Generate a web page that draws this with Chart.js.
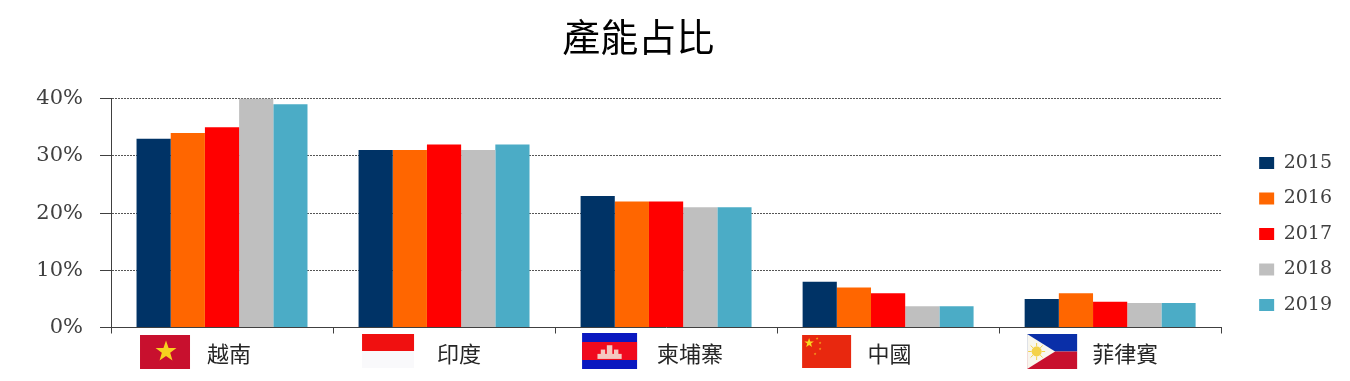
<!DOCTYPE html>
<html>
<head>
<meta charset="utf-8">
<title>產能占比</title>
<style>
  html, body { margin: 0; padding: 0; background: #fff; }
  canvas { display: block; }
</style>
<script src="https://cdn.jsdelivr.net/npm/chart.js@4/dist/chart.umd.min.js"></script>
</head>
<body>
<canvas id="chart" width="1350" height="381"></canvas>
<script>
const COUNTRIES = ["越南", "印度", "柬埔寨", "中國", "菲律賓"];
const TICK_VALUES = [0, 10, 20, 30, 40];
const Y2015 = [33, 31, 23, 8, 5];
const Y2016 = [34, 31, 22, 7, 6];
const Y2017 = [35, 32, 22, 6, 4.5];
const Y2018 = [40, 31, 21, 3.7, 4.3];
const Y2019 = [39, 32, 21, 3.7, 4.3];

const SERIES = [
  { label: "2015", data: Y2015, color: "#003366" },
  { label: "2016", data: Y2016, color: "#FF6600" },
  { label: "2017", data: Y2017, color: "#FF0000" },
  { label: "2018", data: Y2018, color: "#BFBFBF" },
  { label: "2019", data: Y2019, color: "#4BACC6" },
];

const LATIN_FONT = "'DejaVu Serif'";
const CJK_FONT = "'Noto Sans CJK TC'";

function star(ctx, cx, cy, r, color) {
  ctx.fillStyle = color;
  ctx.beginPath();
  for (let i = 0; i < 10; i++) {
    const rad = i % 2 ? r * 0.4 : r;
    const a = -Math.PI / 2 + (i * Math.PI) / 5;
    ctx.lineTo(cx + rad * Math.cos(a), cy + rad * Math.sin(a));
  }
  ctx.closePath();
  ctx.fill();
}

function flagVietnam(ctx, w, h) {
  ctx.fillStyle = "#C8102E";
  ctx.fillRect(0, 0, w, h);
  star(ctx, w / 2 + 1, h / 2 - 0.5, 11, "#F6D21F");
}

function flagIndonesia(ctx, w, h) {
  ctx.fillStyle = "#F9F9FB";
  ctx.fillRect(0, 0, w, h);
  ctx.fillStyle = "#F01010";
  ctx.fillRect(0, 0, w, h / 2);
}

function flagCambodia(ctx, w, h) {
  ctx.fillStyle = "#0A18C0";
  ctx.fillRect(0, 0, w, h);
  ctx.fillStyle = "#F00A1E";
  ctx.fillRect(0, h * 0.25, w, h * 0.5);
  // angkor wat silhouette
  ctx.fillStyle = "#F4C8C0";
  ctx.fillRect(w * 0.28, h * 0.58, w * 0.44, h * 0.14);
  ctx.fillRect(w * 0.34, h * 0.46, w * 0.08, h * 0.14);
  ctx.fillRect(w * 0.58, h * 0.46, w * 0.08, h * 0.14);
  ctx.fillRect(w * 0.45, h * 0.34, w * 0.1, h * 0.26);
}

function flagChina(ctx, w, h) {
  ctx.fillStyle = "#E8280F";
  ctx.fillRect(0, 0, w, h);
  star(ctx, 7, 8, 5, "#F8D820");
  star(ctx, 15, 3.5, 1.4, "#F4B020");
  star(ctx, 18, 8, 1.4, "#F4B020");
  star(ctx, 18, 14, 1.4, "#F4B020");
  star(ctx, 13, 19, 1.4, "#F4B020");
}

function flagPhilippines(ctx, w, h) {
  ctx.fillStyle = "#0A2FA8";
  ctx.fillRect(0, 0, w, h / 2);
  ctx.fillStyle = "#C8102E";
  ctx.fillRect(0, h / 2, w, h / 2);
  ctx.fillStyle = "#F8F6EE";
  ctx.beginPath();
  ctx.moveTo(0, 0);
  ctx.lineTo(w * 0.56, h / 2);
  ctx.lineTo(0, h);
  ctx.closePath();
  ctx.fill();
  ctx.fillStyle = "#F4D24A";
  ctx.beginPath();
  ctx.arc(w * 0.19, h / 2, 5, 0, Math.PI * 2);
  ctx.fill();
  ctx.strokeStyle = "#F4D24A";
  ctx.lineWidth = 1;
  for (let i = 0; i < 8; i++) {
    const a = (i * Math.PI) / 4;
    ctx.beginPath();
    ctx.moveTo(w * 0.19 + 5 * Math.cos(a), h / 2 + 5 * Math.sin(a));
    ctx.lineTo(w * 0.19 + 8.5 * Math.cos(a), h / 2 + 8.5 * Math.sin(a));
    ctx.stroke();
  }
}

// offsets are relative to each category centre on the x scale
const FLAG_SPOTS = [
  { draw: flagVietnam, dx: -82, top: 335, w: 50, h: 34, textDx: 7 },
  { draw: flagIndonesia, dx: -82, top: 334, w: 52, h: 34, textDx: 15 },
  { draw: flagCambodia, dx: -84, top: 333, w: 55, h: 36, textDx: 24 },
  { draw: flagChina, dx: -86, top: 335, w: 49, h: 33, textDx: 1.5 },
  { draw: flagPhilippines, dx: -83, top: 334, w: 50, h: 35, textDx: 15 },
];

const categoryFlags = {
  id: "categoryFlags",
  afterDraw(chart) {
    const { ctx, scales } = chart;
    COUNTRIES.forEach((name, i) => {
      const spot = FLAG_SPOTS[i];
      const center = scales.x.getPixelForTick(i);
      ctx.save();
      ctx.translate(center + spot.dx, spot.top);
      spot.draw(ctx, spot.w, spot.h);
      ctx.restore();

      ctx.save();
      ctx.font = `22px ${CJK_FONT}`;
      ctx.fillStyle = "#262626";
      ctx.textAlign = "center";
      ctx.textBaseline = "middle";
      ctx.fillText(name, center + spot.textDx, 354);
      ctx.restore();
    });
  },
};

const blockSpots = {
  id: "blockSpots",
  afterLayout(chart) {
    // reference title and legend sit off the default centre lines
    chart.titleBlock.left -= 22;
    chart.titleBlock.right -= 22;
    const legend = chart.legend;
    legend.left += 21.5;
    legend.right += 21.5;
    legend.top = 233 - (legend.bottom - legend.top) / 2 + 1;
    legend.bottom = legend.top + 381;
  },
};

new Chart(document.getElementById("chart"), {
  type: "bar",
  data: {
    labels: COUNTRIES,
    datasets: SERIES.map((s) => ({
      label: s.label,
      data: s.data,
      backgroundColor: s.color,
      borderWidth: 0,
      categoryPercentage: 0.77,
      barPercentage: 1,
    })),
  },
  options: {
    responsive: false,
    animation: false,
    layout: { padding: { right: 29.5 } },
    scales: {
      x: {
        afterFit: (scale) => { scale.height = 53.5; },
        ticks: { display: false },
        grid: { drawOnChartArea: false, drawTicks: true, tickLength: 6, color: "#404040", lineWidth: 1 },
        border: { color: "#404040", width: 1 },
      },
      y: {
        min: 0,
        max: 40,
        afterFit: (scale) => { scale.width = 111; },
        afterBuildTicks: (scale) => { scale.ticks = TICK_VALUES.map((value) => ({ value })); },
        ticks: {
          callback: (v) => `${v}%`,
          color: "#404040",
          padding: 17,
          font: { family: LATIN_FONT, size: 21 },
        },
        grid: {
          color: (c) => (c.tick.value === 0 ? "#404040" : "#555555"),
          lineWidth: 1,
          tickLength: 11,
          tickColor: "#404040",
          drawTicks: true,
        },
        border: { color: "#404040", width: 1, dash: [2, 1] },
      },
    },
    plugins: {
      title: {
        display: true,
        text: "產能占比",
        color: "#000",
        font: { family: CJK_FONT, size: 38, weight: "normal" },
        padding: { top: 14, bottom: 39 },
      },
      legend: {
        position: "right",
        labels: {
          boxWidth: 15,
          boxHeight: 12,
          padding: 16.5,
          color: "#404040",
          font: { family: LATIN_FONT, size: 19 },
        },
      },
      tooltip: { enabled: false },
    },
  },
  plugins: [blockSpots, categoryFlags],
});
</script>
</body>
</html>
